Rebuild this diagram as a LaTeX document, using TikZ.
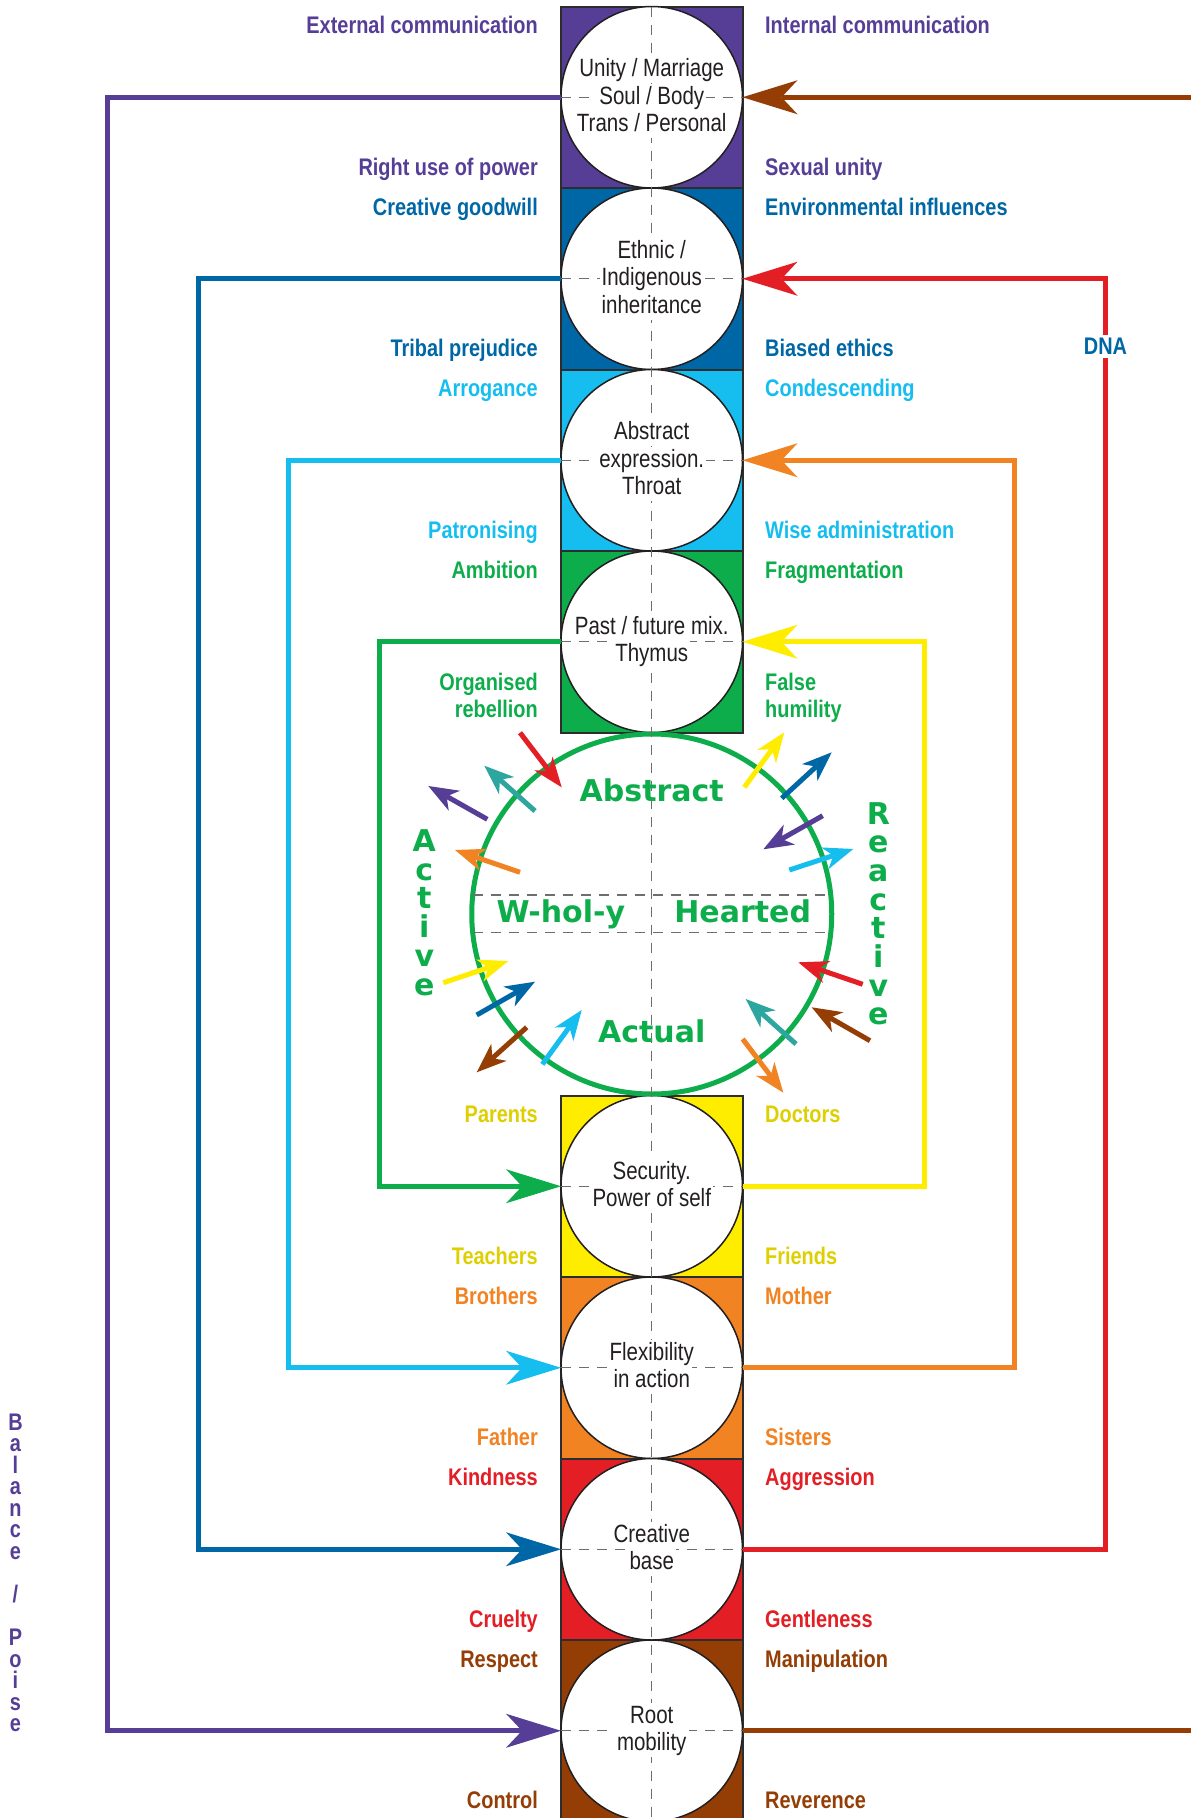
\documentclass[tikz,border=0pt]{standalone}
\usepackage{fontspec}
\setmainfont{Liberation Sans}
\newfontfamily\circfont[FakeStretch=0.82]{Liberation Sans}
\newfontfamily\labfont[FakeStretch=0.83]{Liberation Sans}
\newfontfamily\bigfont{DejaVu Sans}
\usetikzlibrary{arrows.meta}
\definecolor{cpurple}{RGB}{86,62,151}
\definecolor{cblue}{RGB}{0,103,166}
\definecolor{ccyan}{RGB}{22,190,240}
\definecolor{cgreen}{RGB}{14,173,76}
\definecolor{cyellow}{RGB}{255,237,0}
\definecolor{cyeltext}{RGB}{222,208,0}
\definecolor{corange}{RGB}{242,131,34}
\definecolor{cred}{RGB}{227,30,37}
\definecolor{cbrown}{RGB}{148,62,6}
\definecolor{cteal}{RGB}{44,166,158}
\definecolor{dashgray}{RGB}{110,110,110}
\definecolor{boxline}{RGB}{45,45,45}
\definecolor{inkdark}{RGB}{35,31,32}
\tikzset{
  box/.style={draw=boxline, line width=2pt},
  chakra/.style={circle, draw=inkdark, fill=white, line width=1.5pt, minimum size=181.5pt, inner sep=0pt, outer sep=0pt},
  dashline/.style={draw=dashgray, line width=1.3pt, dash pattern=on 10pt off 8pt},
  cline/.style={fill=white, inner xsep=2pt, inner ysep=0pt, text height=20.5pt, text depth=6.5pt, anchor=base, text=inkdark, font=\circfont\fontsize{25}{27.5}\selectfont},
  lab/.style={font=\labfont\bfseries\fontsize{24}{27}\selectfont, inner sep=0pt},
  labL/.style={lab, anchor=base east},
  labR/.style={lab, anchor=base west},
  loopline/.style={line width=5pt},
  bighead/.style={-{Stealth[length=55pt,width=34pt,inset=16pt,line width=0pt]}},
  smallarrow/.style={line width=5pt, -{Stealth[length=30pt,width=23pt,inset=9pt,line width=0pt]}},
  bigtxt/.style={font=\bigfont\bfseries\fontsize{30}{30}\selectfont, text=cgreen, inner sep=0pt, anchor=base},
  vlet/.style={font=\labfont\bfseries\fontsize{24}{24}\selectfont, text=cpurple, inner sep=0pt, anchor=base},
}
\begin{document}
\begin{tikzpicture}[x=1pt,y=-1pt]
\useasboundingbox (0,0) rectangle (1191,1818);
\fill[white] (0,0) rectangle (1191,1818);

% coloured boxes
\draw[box, fill=cpurple] (561,6.5) rectangle (742.5,188);
\draw[box, fill=cblue]   (561,188) rectangle (742.5,369.5);
\draw[box, fill=ccyan]   (561,369.5) rectangle (742.5,551);
\draw[box, fill=cgreen]  (561,551) rectangle (742.5,732.5);
\draw[box, fill=cyellow] (561,1095.5) rectangle (742.5,1277);
\draw[box, fill=corange] (561,1277) rectangle (742.5,1458.5);
\draw[box, fill=cred]    (561,1458.5) rectangle (742.5,1640);
\draw[box, fill=cbrown]  (561,1640) rectangle (742.5,1821.5);

% circles
\node[chakra] (c0) at (651.75,97.25) {};
\node[chakra] (c1) at (651.75,278.75) {};
\node[chakra] (c2) at (651.75,460.25) {};
\node[chakra] (c3) at (651.75,641.75) {};
\node[chakra] (c4) at (651.75,1186.25) {};
\node[chakra] (c5) at (651.75,1367.75) {};
\node[chakra] (c6) at (651.75,1549.25) {};
\node[chakra] (c7) at (651.75,1730.75) {};

% big heart circle
\draw[cgreen, line width=5pt] (651.75,914) circle[radius=180];

% dashed lines
\draw[dashline] (651.75,6.5) -- (651.75,1818);
\foreach \c in {c0,c1,c2,c3,c4,c5,c6,c7}{
  \draw[dashline] (\c.west) -- (\c.east);
}
\draw[dashline] (472.75,895) -- (830.75,895);
\draw[dashline] (472.75,932.5) -- (830.75,932.5);

% circle texts (one node per line)
\node[cline] (t0a) at ([yshift=20.5pt]c0) {Unity / Marriage};
\node[cline] (t0b) at ([yshift=-7pt]c0) {Soul / Body};
\node[cline] (t0c) at ([yshift=-34.5pt]c0) {Trans / Personal};
\node[cline] (t1a) at ([yshift=20.5pt]c1) {Ethnic /};
\node[cline] (t1b) at ([yshift=-7pt]c1) {Indigenous};
\node[cline] (t1c) at ([yshift=-34.5pt]c1) {inheritance};
\node[cline] (t2a) at ([yshift=20.5pt]c2) {Abstract};
\node[cline] (t2b) at ([yshift=-7pt]c2) {expression.};
\node[cline] (t2c) at ([yshift=-34.5pt]c2) {Throat};
\node[cline] (t3a) at ([yshift=7pt]c3) {Past / future mix.};
\node[cline] (t3b) at ([yshift=-20pt]c3) {Thymus};
\node[cline] (t4a) at ([yshift=7pt]c4) {Security.};
\node[cline] (t4b) at ([yshift=-20pt]c4) {Power of self};
\node[cline] (t5a) at ([yshift=7pt]c5) {Flexibility};
\node[cline] (t5b) at ([yshift=-20pt]c5) {in action};
\node[cline] (t6a) at ([yshift=7pt]c6) {Creative};
\node[cline] (t6b) at ([yshift=-20pt]c6) {base};
\node[cline] (t7a) at ([yshift=7pt]c7) {Root};
\node[cline] (t7b) at ([yshift=-20pt]c7) {mobility};

% big circle texts
\node[bigtxt] (abs) at (651.75,801) {Abstract};
\node[bigtxt] (who) at (560.8,922.7) {W-hol-y};
\node[bigtxt] (hea) at (742.7,922.7) {Hearted};
\node[bigtxt] (act) at (651.75,1042.3) {Actual};

% Active / Reactive
\foreach \l [count=\i from 0] in {A,c,t,i,v,e}{
  \node[bigtxt] at (424.3,851.5+28.7*\i) {\l};
}
\foreach \l [count=\i from 0] in {R,e,a,c,t,i,v,e}{
  \node[bigtxt] at (878.3,824+28.7*\i) {\l};
}

% Balance / Poise
\foreach \l [count=\i from 0] in {B,a,l,a,n,c,e,{},/,{},P,o,i,s,e}{
  \node[vlet] at (15.5,1430+21.55*\i) {\l};
}

% small arrows around the heart circle
\draw[smallarrow, cred]    (520,732.7) -- (561.7,787.3);
\draw[smallarrow, cteal]   (535,811) -- (484.3,765.7);
\draw[smallarrow, cpurple] (487.3,819.3) -- (428.3,786);
\draw[smallarrow, corange] (520,872.3) -- (455,850);
\draw[smallarrow, cyellow] (443.3,982.7) -- (508.3,961);
\draw[smallarrow, cblue]   (476.7,1015) -- (535,981.7);
\draw[smallarrow, cbrown]  (526.7,1027.3) -- (476.7,1072.3);
\draw[smallarrow, ccyan]   (542.3,1064.3) -- (581.7,1010);
\draw[smallarrow, cyellow] (744.3,787.3) -- (784.3,732.3);
\draw[smallarrow, cblue]   (781.7,798.3) -- (831.7,752.3);
\draw[smallarrow, cpurple] (822.7,815.7) -- (763.3,849.3);
\draw[smallarrow, ccyan]   (789.3,870) -- (853.3,849);
\draw[smallarrow, cred]    (862.7,984.3) -- (798.3,962.3);
\draw[smallarrow, cteal]   (796,1044) -- (745.7,999);
\draw[smallarrow, cbrown]  (870,1040.7) -- (811.7,1007.3);
\draw[smallarrow, corange] (742.7,1039) -- (783.3,1092.7);

% loop connectors
\draw[loopline, cpurple, bighead] (c0.west) -- ++(-453.75,0) |- (c7.west);
\draw[loopline, cblue, bighead]   (c1.west) -- ++(-363,0) |- (c6.west);
\draw[loopline, ccyan, bighead]   (c2.west) -- ++(-272.25,0) |- (c5.west);
\draw[loopline, cgreen, bighead]  (c3.west) -- ++(-181.5,0) |- (c4.west);
\draw[loopline, cyellow, bighead] (c4.east) -- ++(181.5,0) |- (c3.east);
\draw[loopline, corange, bighead] (c5.east) -- ++(272.25,0) |- (c2.east);
\draw[loopline, cred, bighead]    (c6.east) -- ++(363,0) |- (c1.east);
\coordinate (brT) at (1200,97.25);
\coordinate (brB) at (1200,1730.75);
\draw[loopline, cbrown, bighead] (brT) -- (c0.east);
\draw[loopline, cbrown] (c7.east) -- (brB);

% DNA
\node[lab, text=cblue, fill=white, inner xsep=2pt, inner ysep=3pt] (dna) at (1105.5,346.7) {DNA};

% labels left
\node[labL, text=cpurple] (la0) at (538,33.5) {External communication};
\node[labL, text=cpurple] (lb0) at (538,175) {Right use of power};
\node[labL, text=cblue] (la1) at (538,215) {Creative goodwill};
\node[labL, text=cblue] (lb1) at (538,356.5) {Tribal prejudice};
\node[labL, text=ccyan] (la2) at (538,396.5) {Arrogance};
\node[labL, text=ccyan] (lb2) at (538,538) {Patronising};
\node[labL, text=cgreen] (la3) at (538,578) {Ambition};
\node[labL, text=cgreen] (lb3) at (538,690.7) {Organised};
\node[labL, text=cgreen] (lc3) at (538,717.3) {rebellion};
\node[labL, text=cyeltext] (la4) at (538,1122.5) {Parents};
\node[labL, text=cyeltext] (lb4) at (538,1264) {Teachers};
\node[labL, text=corange] (la5) at (538,1304) {Brothers};
\node[labL, text=corange] (lb5) at (538,1445.5) {Father};
\node[labL, text=cred] (la6) at (538,1485.5) {Kindness};
\node[labL, text=cred] (lb6) at (538,1627) {Cruelty};
\node[labL, text=cbrown] (la7) at (538,1667) {Respect};
\node[labL, text=cbrown] (lb7) at (538,1808.5) {Control};

% labels right
\node[labR, text=cpurple] (ra0) at (765,33.5) {Internal communication};
\node[labR, text=cpurple] (rb0) at (765,175) {Sexual unity};
\node[labR, text=cblue] (ra1) at (765,215) {Environmental influences};
\node[labR, text=cblue] (rb1) at (765,356.5) {Biased ethics};
\node[labR, text=ccyan] (ra2) at (765,396.5) {Condescending};
\node[labR, text=ccyan] (rb2) at (765,538) {Wise administration};
\node[labR, text=cgreen] (ra3) at (765,578) {Fragmentation};
\node[labR, text=cgreen] (rb3) at (765,690.7) {False};
\node[labR, text=cgreen] (rc3) at (765,717.3) {humility};
\node[labR, text=cyeltext] (ra4) at (765,1122.5) {Doctors};
\node[labR, text=cyeltext] (rb4) at (765,1264) {Friends};
\node[labR, text=corange] (ra5) at (765,1304) {Mother};
\node[labR, text=corange] (rb5) at (765,1445.5) {Sisters};
\node[labR, text=cred] (ra6) at (765,1485.5) {Aggression};
\node[labR, text=cred] (rb6) at (765,1627) {Gentleness};
\node[labR, text=cbrown] (ra7) at (765,1667) {Manipulation};
\node[labR, text=cbrown] (rb7) at (765,1808.5) {Reverence};
\end{tikzpicture}
\end{document}
